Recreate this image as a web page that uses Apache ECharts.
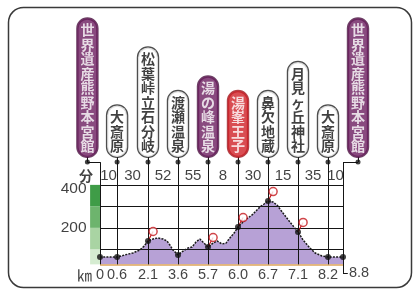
<!DOCTYPE html>
<html lang="ja">
<head>
<meta charset="utf-8">
<title>熊野本宮 周辺コース 高低図</title>
<script src="https://cdn.jsdelivr.net/npm/echarts@6/dist/echarts.min.js"></script>
<style>
  html, body { margin: 0; padding: 0; background: #fff; }
  #chart { width: 413px; height: 289px; }
</style>
</head>
<body>
<div id="chart"></div>
<script>
// course stations (the diagram is schematic: stations are spaced evenly, not by km)
const stations = ['世界遺産熊野本宮館', '大斎原', '松葉峠立石分岐', '渡瀬温泉', '湯の峰温泉', '湯峯王子', '鼻欠地蔵', '月見ヶ丘神社', '大斎原', '世界遺産熊野本宮館'];
const stationKind = ['hub', 'plain', 'plain', 'plain', 'hub', 'oji', 'plain', 'plain', 'plain', 'hub'];
const kmLabels = ['0', '0.6', '2.1', '3.6', '5.7', '6.0', '6.7', '7.1', '8.2', '8.8'];
const stationPos = [0, 0.57, 1.6, 2.6, 3.6, 4.6, 5.6, 6.6, 7.6, 8.1];
const signPos = [-0.42, 0.57, 1.6, 2.6, 3.6, 4.6, 5.6, 6.6, 7.6, 8.6];
const stationElev = [64, 64, 139, 74, 111, 204, 325, 181, 64, 64];
const walkMinutes = [10, 30, 52, 55, 8, 30, 15, 35, 10];
const elevTicks = [100, 200, 300, 400];
const elevLabels = [400, 200];
const viewSpots = [2, 4, 5, 6, 7];   // stations with a view point mark

// elevation profile [position, metres]
const profile = [
  [0, 64], [0.57, 64], [0.83, 74], [1.1, 83], [1.33, 97], [1.47, 115], [1.6, 139],
  [1.77, 148], [1.93, 153], [2.1, 148], [2.23, 139], [2.33, 120], [2.43, 97], [2.6, 74],
  [2.77, 92], [2.93, 106], [3.07, 111], [3.2, 134], [3.33, 148], [3.43, 134], [3.6, 111],
  [3.77, 129], [3.9, 139], [4.07, 125], [4.2, 129], [4.33, 153], [4.47, 176], [4.6, 204],
  [4.83, 236], [5.07, 260], [5.33, 297], [5.47, 311], [5.6, 325], [5.77, 320], [5.9, 306],
  [6.1, 269], [6.33, 227], [6.6, 181], [6.77, 143], [7.0, 106], [7.17, 83], [7.4, 69],
  [7.6, 64], [8.1, 64]
];

// layout levels, in axis units
const BASE = 30, SIGN_Y = 530, DOT_Y = 506, MIN_Y = 441, KM_Y = -19, HOOK_Y = -10;
const bandColors = ['#d5ecd1', '#a9d4a3', '#6db46d', '#3f9c47'];
const signStyle = {
  hub: { backgroundColor: '#6c1d5f', borderColor: '#4a1040', color: '#fff' },
  oji: { backgroundColor: '#cf2027', borderColor: '#a01018', color: '#fff' },
  plain: { backgroundColor: '#fff', borderColor: '#222', color: '#111' }
};
const NUM_FONT = 'Liberation Sans, Arial, sans-serif';
const JP_FONT = 'Noto Sans CJK JP, sans-serif';

const last = stationPos.length - 1;
const seg = (a, b) => [{ coord: a }, { coord: b }];

// grid lines, posts from the signs down to the ground, view point stems
const gridLines = elevTicks.map(v => seg([stationPos[0], v], [stationPos[last], v]));
const baseLine = [
  { coord: [stationPos[0], BASE], lineStyle: { color: '#dca45a', width: 1.6 } },
  { coord: [stationPos[last], BASE] }
];
const posts = [];
stationPos.forEach((p, i) => {
  const bottom = i === last ? HOOK_Y : BASE;
  if (signPos[i] === p) {
    posts.push(seg([p, bottom], [p, SIGN_Y]));
  } else {
    posts.push(seg([p, bottom], [p, DOT_Y]));
    posts.push(seg([p, DOT_Y], [signPos[i], DOT_Y]));
    posts.push(seg([signPos[i], DOT_Y], [signPos[i], SIGN_Y]));
  }
});
posts.push(seg([stationPos[last], HOOK_Y], [stationPos[last] + 0.16, HOOK_Y]));

const spotDx = 0.17, spotDy = 44;
const stems = viewSpots.map(i => [
  { coord: [stationPos[i], stationElev[i]], lineStyle: { color: '#c4161c', width: 1.2 } },
  { coord: [stationPos[i] + spotDx, stationElev[i] + spotDy] }
]);

const bands = bandColors.map((c, k) => [
  { coord: [-0.33, k === 0 ? BASE : elevTicks[k - 1]], itemStyle: { color: c } },
  { coord: [0, elevTicks[k]] }
]);

const chart = echarts.init(document.getElementById('chart'));
chart.setOption({
  animation: false,
  graphic: [{
    type: 'rect', z: 0,
    shape: { x: 8.5, y: 7.5, width: 403, height: 280, r: 15 },
    style: { fill: '#fff', stroke: '#3a3a3a', lineWidth: 1.5 }
  }],
  grid: { left: 70, right: 40, top: 13, bottom: 1 },
  xAxis: { type: 'value', min: -1, max: 9.1, show: false },
  yAxis: { type: 'value', min: -80, max: 1200, show: false },
  series: [
    {
      // terrain fill + grid lines + posts
      type: 'line', data: profile, symbol: 'none', silent: true, z: 2,
      lineStyle: { width: 0 },
      areaStyle: { color: '#b7a1d6', opacity: 1, origin: BASE },
      markArea: { silent: true, data: bands },
      markLine: {
        silent: true, symbol: 'none', z: 5,
        label: { show: false },
        lineStyle: { color: '#151515', width: 1, type: 'solid' },
        data: [...gridLines, baseLine, ...posts, ...stems]
      }
    },
    {
      // route line along the ground
      type: 'line', data: profile, symbol: 'none', silent: true, z: 6,
      lineStyle: { color: '#1a1a1a', width: 1.5, type: [2, 1.2] }
    },
    {
      // station points on the profile
      type: 'scatter', z: 8, silent: true, symbolSize: 6,
      itemStyle: { color: '#111' },
      data: stationPos.map((p, i) => [p, stationElev[i]])
    },
    {
      // post tops
      type: 'scatter', z: 8, silent: true, symbolSize: 5,
      itemStyle: { color: '#111' },
      data: signPos.map(p => [p, DOT_Y])
    },
    {
      // view point marks
      type: 'scatter', z: 9, silent: true, symbolSize: 8,
      itemStyle: { color: '#fff', borderColor: '#c4161c', borderWidth: 1.5 },
      data: viewSpots.map(i => [stationPos[i] + spotDx, stationElev[i] + spotDy])
    },
    {
      // station signs
      type: 'scatter', z: 10, silent: true, symbolSize: 0,
      data: stations.map((name, i) => ({
        name: name.split('').join('\n'),
        value: [signPos[i], SIGN_Y],
        label: signStyle[stationKind[i]]
      })),
      label: {
        show: true, position: 'top', distance: 0, formatter: '{b}',
        fontFamily: JP_FONT, fontWeight: 'bold', fontSize: 14, lineHeight: 14.5,
        padding: [4, 3], borderWidth: 1.2, borderRadius: 10, align: 'center'
      }
    },
    {
      // walking minutes between stations
      type: 'scatter', z: 10, silent: true, symbolSize: 0,
      data: [
        { name: '分', value: [-0.47, MIN_Y], label: { fontFamily: JP_FONT, fontWeight: 'bold', fontSize: 14 } },
        ...walkMinutes.map((m, i) => ({
          name: String(m), value: [(stationPos[i] + stationPos[i + 1]) / 2, MIN_Y]
        }))
      ],
      label: {
        show: true, position: 'inside', formatter: '{b}',
        fontFamily: NUM_FONT, fontSize: 15, color: '#111'
      }
    },
    {
      // km labels
      type: 'scatter', z: 10, silent: true, symbolSize: 0,
      data: [
        { name: '㎞', value: [-0.52, KM_Y], label: { fontFamily: JP_FONT, fontSize: 15 } },
        ...kmLabels.map((k, i) => i === last
          ? { name: k, value: [stationPos[i], HOOK_Y], label: { align: 'left', offset: [6, 0] } }
          : { name: k, value: [stationPos[i], KM_Y] })
      ],
      label: {
        show: true, position: 'inside', formatter: '{b}',
        fontFamily: NUM_FONT, fontSize: 14.5, color: '#111'
      }
    },
    {
      // elevation labels
      type: 'scatter', z: 10, silent: true, symbolSize: 0,
      data: elevLabels.map(v => ({
        name: String(v), value: [-0.45, v],
        label: v === 400 ? { offset: [0, 4] } : {}
      })),
      label: {
        show: true, position: 'inside', formatter: '{b}', align: 'right',
        fontFamily: NUM_FONT, fontSize: 15.5, color: '#111'
      }
    }
  ]
});
</script>
</body>
</html>
